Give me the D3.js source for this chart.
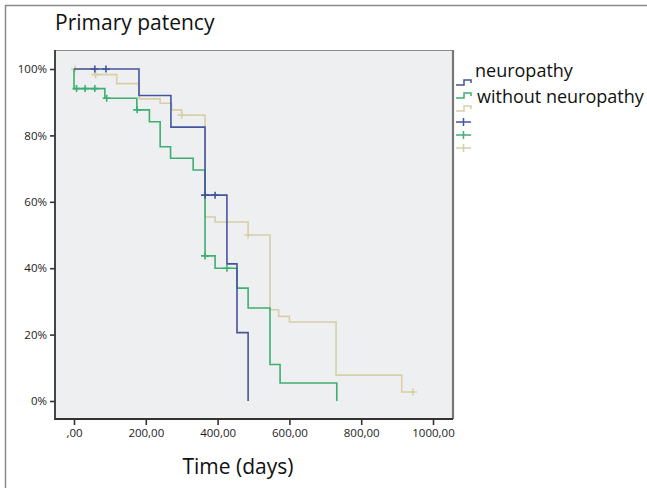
<!DOCTYPE html>
<html>
<head>
<meta charset="utf-8">
<script src="https://cdn.jsdelivr.net/npm/d3@7"></script>
<style>
  html, body { margin: 0; padding: 0; background: #fff; }
  svg { display: block; font-family: "Open Sans", sans-serif; }
</style>
</head>
<body>
<svg id="chart" width="647" height="488"></svg>
<script>
// Kaplan–Meier steps: event times (days) and survival after each step
const neuroTimes = [0, 181, 270, 365, 426, 454, 485];
const neuroSurv  = [1, 0.92, 0.825, 0.62, 0.413, 0.206, 0];
const neuroCensorTimes = [58, 89, 365, 393];

const withoutTimes = [0, 0, 86, 175, 210, 240, 269, 332, 365, 393, 454, 485, 546, 574, 732];
const withoutSurv  = [1, 0.941, 0.912, 0.877, 0.841, 0.766, 0.731, 0.696, 0.437, 0.40, 0.34, 0.28, 0.11, 0.054, 0];
const withoutCensorTimes = [7, 31, 58, 91, 176, 365, 426];

const overallTimes = [0, 58, 119, 182, 240, 272, 300, 365, 393, 485, 546, 570, 600, 730, 913, 944];
const overallSurv  = [1, 0.983, 0.956, 0.91, 0.897, 0.877, 0.861, 0.554, 0.539, 0.50, 0.275, 0.255, 0.238, 0.078, 0.027, 0.027];
const overallCensorTimes = [3, 60, 300, 485, 944];

const groupLabels = ["neuropathy", "without neuropathy"];
const xTicks = [0, 200, 400, 600, 800, 1000];
const yTicks = [0, 0.2, 0.4, 0.6, 0.8, 1];

const colors = { neuro: "#44559e", without: "#3fae72", overall: "#d6cfa8" };

const svg = d3.select("#chart");

// outer frame
svg.append("path")
  .attr("d", "M5.5,490 V5.5 H660")
  .attr("fill", "none").attr("stroke", "#8a8a8a").attr("stroke-width", 1.5);

svg.append("text")
  .attr("x", 55).attr("y", 30)
  .attr("font-size", 21).attr("fill", "#111")
  .text("Primary patency");

const plot = { left: 55, right: 453, top: 50, bottom: 419 };

const x = d3.scaleLinear().domain([0, 1000]).range([74, 433]);
const y = d3.scaleLinear().domain([0, 1]).range([401, 69]);

// plot background
svg.append("rect")
  .attr("x", plot.left).attr("y", plot.top)
  .attr("width", plot.right - plot.left).attr("height", plot.bottom - plot.top)
  .attr("fill", "#eeeff1");
svg.append("line")
  .attr("x1", plot.left).attr("x2", plot.right).attr("y1", plot.top + 0.5).attr("y2", plot.top + 0.5)
  .attr("stroke", "#8c8c8c").attr("stroke-width", 1.2);
svg.append("line")
  .attr("x1", plot.right).attr("x2", plot.right).attr("y1", plot.top).attr("y2", plot.bottom)
  .attr("stroke", "#777").attr("stroke-width", 2.2);

// axes
const yAxis = d3.axisLeft(y).tickValues(yTicks).tickSize(5).tickPadding(3)
  .tickFormat(d => Math.round(d * 100) + "%");
const gy = svg.append("g").attr("transform", `translate(${plot.left},0)`).call(yAxis);
gy.select(".domain").remove();

const xAxis = d3.axisBottom(x).tickValues(xTicks).tickSize(6).tickPadding(4)
  .tickFormat(d => (d === 0 ? "" : d) + ",00");
const gx = svg.append("g").attr("transform", `translate(0,${plot.bottom})`).call(xAxis);
gx.select(".domain").remove();

[gx, gy].forEach(g => {
  g.selectAll("line").attr("stroke", "#333").attr("stroke-width", 1.6);
  g.selectAll("text").attr("font-family", "Open Sans, sans-serif").attr("font-size", 11.5).attr("fill", "#222");
});

svg.append("path")
  .attr("d", `M${plot.left},${plot.top} V${plot.bottom} H${plot.right}`)
  .attr("fill", "none").attr("stroke", "#333").attr("stroke-width", 1.8);

svg.append("text")
  .attr("x", 238).attr("y", 474).attr("text-anchor", "middle")
  .attr("font-size", 21).attr("fill", "#111")
  .text("Time (days)");

// survival curves
const line = d3.line().x(d => x(d[0])).y(d => y(d[1])).curve(d3.curveStepAfter);

function survAt(times, surv, t) {
  let s = surv[0];
  for (let i = 0; i < times.length; i++) if (times[i] <= t) s = surv[i];
  return s;
}

const series = [
  { times: overallTimes, surv: overallSurv, cens: overallCensorTimes, color: colors.overall },
  { times: withoutTimes, surv: withoutSurv, cens: withoutCensorTimes, color: colors.without },
  { times: neuroTimes, surv: neuroSurv, cens: neuroCensorTimes, color: colors.neuro }
];

series.forEach(s => {
  const pts = s.times.map((t, i) => [t, s.surv[i]]);
  svg.append("path")
    .attr("d", line(pts))
    .attr("fill", "none").attr("stroke", s.color).attr("stroke-width", 1.6);
  s.cens.forEach(t => {
    const cx = x(t), cy = y(survAt(s.times, s.surv, t));
    svg.append("path")
      .attr("d", `M${cx - 4},${cy} H${cx + 4} M${cx},${cy - 3.5} V${cy + 3.5}`)
      .attr("stroke", s.color).attr("stroke-width", 1.6);
  });
});

// legend
const lx = 456;
const legendSteps = [
  { color: colors.neuro, y: 83 },
  { color: colors.without, y: 96 },
  { color: colors.overall, y: 109 }
];
legendSteps.forEach(d => {
  svg.append("path")
    .attr("d", `M${lx},${d.y + 2} H${lx + 8} V${d.y - 3} H${lx + 15} V${d.y}`)
    .attr("fill", "none").attr("stroke", d.color).attr("stroke-width", 1.5);
});
const legendPlus = [
  { color: colors.neuro, y: 122 },
  { color: colors.without, y: 135 },
  { color: colors.overall, y: 148 }
];
legendPlus.forEach(d => {
  svg.append("path")
    .attr("d", `M${lx},${d.y} H${lx + 15} M${lx + 7.5},${d.y - 4} V${d.y + 4}`)
    .attr("stroke", d.color).attr("stroke-width", 1.5);
});
svg.append("text").attr("x", 475).attr("y", 77).attr("font-size", 18).attr("fill", "#111").text(groupLabels[0]);
svg.append("text").attr("x", 477).attr("y", 103).attr("font-size", 18).attr("fill", "#111").text(groupLabels[1]);
</script>
</body>
</html>
